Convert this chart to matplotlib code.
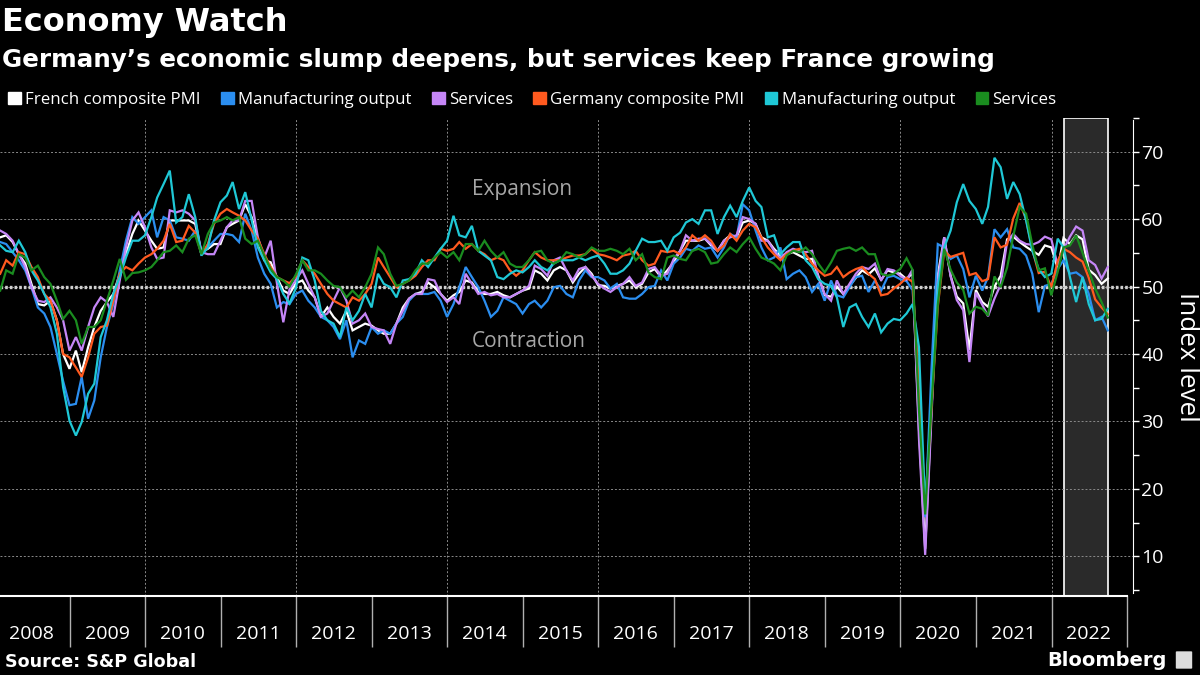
import numpy as np
import pandas as pd
import matplotlib
matplotlib.use('Agg')
import matplotlib.pyplot as plt
import matplotlib.dates as mdates
import matplotlib.patches as mpatches

# monthly PMI readings, Jan 2008 - Sep 2022
fr_composite = [
    57.3, 57.6, 56.6, 54.8, 53.4, 50.4, 47.4, 47.2, 47.9, 45.0, 40.0, 37.8,
    40.5, 37.3, 41.0, 44.0, 46.4, 47.7, 48.9, 51.9, 54.8, 57.8, 59.8, 58.3,
    56.8, 55.6, 55.8, 59.8, 59.8, 59.8, 59.8, 59.3, 55.1, 55.6, 56.3, 56.3,
    58.8, 59.3, 59.8, 62.2, 60.3, 56.8, 53.9, 53.6, 51.4, 49.4, 48.9, 50.5,
    50.9, 49.4, 48.4, 45.5, 46.9, 45.5, 44.5, 46.4, 43.5, 44.0, 44.5, 44.2,
    43.5, 43.0, 43.0, 44.5, 46.9, 48.2, 48.9, 49.2, 50.6, 49.9, 48.9, 47.9,
    48.7, 49.2, 50.9, 50.6, 49.2, 48.9, 48.9, 49.2, 48.7, 48.4, 48.9, 49.4,
    49.7, 52.4, 51.9, 50.9, 52.4, 52.9, 52.4, 50.6, 51.9, 52.9, 51.9, 50.2,
    50.1, 49.7, 50.1, 50.4, 50.9, 49.9, 50.4, 52.1, 52.6, 51.4, 52.4, 53.6,
    55.3, 56.8, 56.8, 56.8, 57.1, 56.1, 55.3, 56.8, 57.6, 57.3, 59.5, 59.8,
    59.3, 57.3, 56.8, 55.6, 54.6, 54.8, 55.1, 54.6, 54.1, 54.1, 51.6, 48.7,
    48.5, 50.0, 48.9, 50.1, 51.3, 52.4, 51.8, 52.7, 51.0, 52.4, 52.1, 51.9,
    51.1, 52.0, 28.9, 11.1, 32.1, 51.7, 57.3, 51.6, 48.5, 47.5, 40.6, 49.5,
    47.7, 47.0, 50.0, 51.6, 57.0, 57.4, 56.6, 55.9, 55.3, 54.7, 56.1, 55.8,
    52.7, 57.2, 56.3, 57.6, 57.0, 52.5, 51.7, 50.4, 51.2,
]
fr_manufacturing = [
    56.6, 56.3, 55.1, 53.9, 52.4, 49.9, 46.9, 46.0, 44.0, 40.0, 36.0, 32.4,
    32.6, 36.6, 30.4, 33.1, 39.5, 44.0, 47.4, 52.4, 56.8, 60.3, 59.3, 60.3,
    61.3, 57.3, 60.3, 59.8, 57.3, 57.1, 56.8, 58.3, 54.8, 55.8, 56.8, 57.8,
    57.8, 57.6, 56.6, 60.8, 58.3, 54.3, 51.9, 50.4, 46.9, 47.7, 47.4, 48.9,
    49.4, 47.9, 46.9, 45.5, 45.0, 44.0, 42.2, 45.0, 39.5, 42.0, 41.5, 44.0,
    43.0, 43.5, 43.0, 44.5, 45.5, 47.9, 48.9, 48.9, 48.9, 49.2, 47.9, 45.5,
    47.4, 49.9, 52.9, 51.4, 49.9, 47.9, 45.5, 46.4, 48.4, 47.9, 47.4, 46.0,
    47.4, 47.9, 46.9, 47.9, 49.9, 50.1, 48.9, 48.4, 50.9, 52.4, 51.4, 51.4,
    50.9, 49.7, 50.4, 48.4, 48.2, 48.2, 48.9, 49.9, 50.1, 52.4, 50.9, 53.4,
    54.3, 55.6, 55.3, 56.1, 55.6, 55.8, 54.3, 55.8, 57.8, 57.3, 62.2, 61.3,
    58.3, 55.8, 53.9, 54.3, 55.8, 51.1, 51.9, 52.4, 51.4, 49.2, 50.4, 47.9,
    50.9, 48.7, 48.4, 49.9, 51.4, 51.6, 49.2, 50.9, 49.4, 51.4, 51.6, 51.1,
    50.8, 49.5, 36.0, 15.8, 38.0, 56.3, 55.8, 54.1, 54.6, 52.6, 48.4, 51.6,
    49.4, 51.4, 58.5, 57.3, 58.5, 55.8, 55.6, 54.6, 51.9, 46.2, 50.1, 50.4,
    52.6, 53.9, 51.9, 52.1, 51.4, 48.9, 45.0, 45.5, 43.5,
]
fr_services = [
    58.3, 57.8, 56.8, 54.8, 52.9, 49.9, 47.9, 47.7, 48.4, 46.9, 45.0, 40.5,
    42.5, 40.5, 44.0, 46.9, 48.4, 47.7, 45.5, 50.9, 55.8, 59.8, 61.0, 58.8,
    55.8, 54.1, 54.3, 61.3, 61.0, 61.3, 60.8, 59.8, 55.1, 54.8, 54.8, 56.8,
    58.8, 59.8, 59.8, 62.7, 62.7, 57.3, 54.3, 56.8, 50.5, 44.7, 49.6, 51.0,
    52.4, 50.4, 48.4, 45.5, 46.0, 47.9, 49.9, 47.9, 44.5, 45.0, 46.0, 44.0,
    43.7, 43.5, 41.5, 44.5, 46.4, 48.2, 48.9, 48.9, 51.1, 50.9, 48.9, 47.7,
    48.4, 47.4, 51.9, 50.4, 48.9, 49.2, 48.7, 48.9, 48.4, 48.4, 48.9, 49.4,
    50.1, 53.1, 52.6, 51.6, 53.9, 54.3, 52.4, 50.9, 52.6, 52.9, 51.6, 50.4,
    49.7, 49.2, 49.9, 50.4, 51.4, 50.1, 50.6, 52.6, 52.9, 51.6, 51.9, 54.1,
    55.3, 57.6, 56.8, 57.1, 57.1, 56.3, 55.3, 56.8, 57.3, 57.6, 60.3, 60.0,
    59.3, 56.8, 56.8, 55.3, 54.1, 55.1, 55.6, 55.3, 55.1, 55.3, 51.4, 48.9,
    47.9, 50.9, 48.9, 50.4, 51.9, 52.9, 52.6, 53.4, 50.9, 52.6, 52.4, 51.6,
    51.0, 52.5, 27.4, 10.2, 31.1, 50.7, 57.3, 51.5, 48.0, 46.5, 38.8, 49.1,
    47.3, 45.6, 48.2, 50.3, 56.6, 57.8, 56.8, 56.3, 56.2, 56.6, 57.4, 57.0,
    53.1, 55.5, 57.4, 58.9, 58.3, 53.9, 53.2, 51.2, 52.9,
]
de_composite = [
    51.9, 53.9, 53.1, 55.1, 54.8, 52.9, 51.4, 48.9, 47.9, 45.0, 40.0, 39.5,
    38.0, 36.6, 39.5, 43.0, 44.0, 44.2, 47.9, 51.9, 52.9, 52.4, 53.4, 54.3,
    54.8, 55.6, 56.8, 59.3, 56.6, 56.8, 59.0, 58.0, 54.8, 56.3, 59.3, 60.8,
    61.5, 61.0, 60.5, 59.8, 58.3, 57.1, 54.8, 52.9, 51.4, 50.9, 50.5, 51.5,
    53.9, 52.9, 51.9, 50.4, 48.9, 47.9, 47.4, 46.9, 48.4, 47.9, 48.9, 50.4,
    54.3, 52.9, 51.4, 49.9, 50.4, 50.9, 51.6, 52.9, 53.9, 53.9, 55.6, 55.3,
    55.6, 56.6, 55.6, 56.3, 55.3, 54.8, 53.9, 54.3, 53.9, 52.4, 51.6, 52.4,
    53.9, 55.1, 54.3, 53.9, 53.9, 53.9, 54.3, 54.6, 54.6, 54.8, 55.6, 54.8,
    54.6, 54.3, 53.9, 54.6, 54.8, 55.3, 53.9, 53.1, 53.4, 55.3, 55.1, 55.3,
    54.8, 55.8, 57.6, 56.8, 57.6, 56.8, 55.3, 56.1, 57.8, 56.8, 58.3, 59.3,
    58.8, 57.3, 55.8, 54.8, 53.9, 54.8, 55.3, 55.6, 54.8, 53.4, 52.4, 51.6,
    51.9, 52.9, 51.4, 52.1, 52.6, 52.9, 51.9, 51.1, 48.7, 48.9, 49.7, 50.4,
    51.3, 50.7, 35.0, 17.4, 32.3, 47.0, 55.3, 54.4, 54.7, 55.0, 51.7, 52.0,
    50.8, 51.1, 57.3, 55.8, 56.2, 60.1, 62.4, 60.0, 55.5, 52.0, 52.2, 49.9,
    53.8, 55.6, 55.1, 54.3, 53.7, 51.3, 48.1, 46.9, 45.9,
]
de_manufacturing = [
    56.1, 55.3, 55.1, 56.8, 55.1, 52.4, 50.9, 48.9, 46.9, 43.0, 35.1, 30.1,
    27.9, 29.9, 34.1, 35.6, 42.5, 45.0, 48.9, 51.4, 54.3, 56.8, 56.8, 57.6,
    60.3, 63.2, 65.2, 67.2, 59.5, 60.3, 63.7, 60.3, 54.6, 55.8, 59.8, 62.5,
    63.5, 65.5, 61.5, 64.0, 59.8, 55.8, 53.9, 52.1, 51.1, 48.9, 47.5, 49.8,
    54.3, 53.9, 50.9, 46.4, 45.0, 44.5, 42.5, 46.9, 45.0, 46.4, 48.9, 46.9,
    51.9, 50.4, 49.9, 48.4, 50.9, 51.1, 51.9, 53.9, 52.9, 54.3, 55.6, 56.8,
    60.5, 57.6, 57.3, 59.0, 55.3, 54.6, 53.9, 51.4, 51.1, 51.9, 52.4, 52.1,
    52.9, 53.9, 52.9, 52.4, 53.4, 53.9, 53.9, 53.9, 54.3, 53.9, 54.3, 54.6,
    53.4, 51.9, 51.9, 52.4, 53.4, 55.3, 57.1, 56.6, 56.6, 56.8, 55.3, 57.3,
    58.0, 59.5, 60.0, 59.3, 61.3, 61.3, 57.8, 60.3, 62.0, 60.3, 62.7, 64.7,
    62.7, 61.8, 57.3, 57.6, 54.8, 55.8, 56.6, 56.6, 53.9, 52.9, 51.1, 50.4,
    50.1, 48.4, 44.0, 46.9, 47.4, 45.5, 44.0, 46.0, 43.2, 44.5, 45.2, 45.0,
    46.0, 47.4, 41.0, 17.0, 34.0, 50.0, 55.8, 58.3, 62.5, 65.2, 62.7, 61.5,
    59.3, 61.8, 69.1, 67.7, 63.0, 65.5, 63.7, 59.8, 55.3, 52.6, 51.4, 51.9,
    57.1, 55.8, 51.4, 47.7, 51.4, 47.4, 45.0, 45.2, 46.7,
]
de_services = [
    49.4, 52.4, 51.9, 54.8, 54.3, 52.4, 53.1, 51.4, 50.4, 47.9, 45.2, 46.4,
    45.0, 41.5, 44.0, 44.0, 45.0, 47.9, 50.9, 54.1, 51.0, 52.0, 52.1, 52.4,
    52.9, 53.9, 55.1, 55.3, 56.1, 55.1, 57.1, 57.6, 54.8, 57.8, 59.5, 59.8,
    60.3, 59.8, 60.3, 57.1, 56.3, 56.8, 54.6, 52.6, 51.4, 50.9, 50.0, 51.8,
    53.9, 52.4, 52.4, 51.9, 50.9, 50.1, 49.9, 48.4, 49.4, 48.4, 49.9, 51.9,
    55.8, 54.8, 51.9, 50.1, 50.4, 50.9, 52.4, 53.4, 53.4, 54.3, 55.1, 54.3,
    55.1, 53.9, 56.3, 56.3, 55.3, 56.8, 55.3, 54.3, 55.1, 53.4, 52.9, 52.9,
    53.9, 55.1, 55.3, 53.9, 53.4, 53.9, 55.1, 54.8, 54.3, 54.8, 55.8, 55.3,
    55.3, 55.6, 55.3, 54.8, 55.6, 53.9, 54.8, 52.1, 51.4, 51.1, 54.3, 54.6,
    54.1, 53.9, 55.3, 55.6, 55.1, 53.4, 53.6, 54.8, 55.8, 55.1, 56.3, 57.3,
    55.6, 54.3, 53.9, 53.4, 52.4, 54.6, 55.3, 55.1, 55.8, 54.8, 53.4, 52.1,
    53.6, 55.3, 55.6, 55.8, 55.3, 55.8, 54.8, 54.8, 51.9, 51.6, 51.9, 52.6,
    54.2, 52.5, 31.7, 16.2, 32.6, 47.3, 55.6, 52.5, 50.6, 49.5, 46.0, 47.0,
    46.7, 45.7, 51.5, 49.9, 52.8, 57.5, 61.8, 60.8, 56.2, 52.4, 52.7, 48.7,
    52.2, 55.8, 56.1, 57.6, 55.0, 52.4, 49.7, 47.7, 45.4,
]

series_names = ['French composite PMI', 'Manufacturing output', 'Services',
                'Germany composite PMI', 'Manufacturing output', 'Services']
series_colors = ['#ffffff', '#2b8ef0', '#c586f7', '#ff5a1f', '#1fc8d6', '#1a8c1f']
all_series = [fr_composite, fr_manufacturing, fr_services,
              de_composite, de_manufacturing, de_services]

years = list(range(2008, 2023))
dates = pd.date_range('2008-01-31', periods=len(fr_composite), freq='ME')
shade_start, shade_end = pd.Timestamp('2022-02-28'), pd.Timestamp('2022-09-30')

plt.rcParams['font.family'] = ['Open Sans', 'DejaVu Sans']
fig = plt.figure(figsize=(12, 6.75), dpi=100, facecolor='black')
ax = fig.add_axes([0.0, 1 - 596 / 675, 1133 / 1200, (596 - 118) / 675])
ax.set_facecolor('black')

for vals, col in zip(all_series, series_colors):
    ax.plot(dates, vals, color=col, lw=1.6, solid_joinstyle='miter')

ax.axvspan(shade_start, shade_end, facecolor='#2a2a2a', edgecolor='white', lw=1.2, zorder=0)

ax.set_xlim(pd.Timestamp('2008-01-30'), pd.Timestamp('2023-01-30'))
ax.set_ylim(4.1, 74.7)

# grid
for yv in range(10, 80, 10):
    ax.axhline(yv, color='#8a8a8a', lw=0.7, ls=(0, (2, 2)), zorder=0.5)
ax.axhline(50, color='#d0d0d0', lw=2.4, ls=(0, (0.8, 0.6)), zorder=0.6)
for yr in range(2010, 2023, 2):
    ax.axvline(pd.Timestamp(f'{yr}-01-01'), color='#8a8a8a', lw=0.7, ls=(0, (2, 2)), zorder=0.5)

# y axis on the right
ax.yaxis.tick_right()
ax.set_yticks(range(10, 80, 10))
ax.set_yticks(range(5, 80, 10), minor=True)
ax.tick_params(axis='y', which='both', colors='white', direction='out', length=4, width=1,
               labelsize=14, pad=2)
for sp in ['top', 'left']:
    ax.spines[sp].set_visible(False)
ax.spines['right'].set_color('white')
ax.spines['right'].set_bounds(4.6, 74.7)
ax.spines['bottom'].set_color('white')
ax.spines['bottom'].set_linewidth(1.5)
ax.spines['bottom'].set_bounds(mdates.date2num(pd.Timestamp('2008-01-30')),
                               mdates.date2num(pd.Timestamp('2023-01-01')))

# x axis: separators as major ticks, year labels as minor ticks
ax.set_xticks([pd.Timestamp(f'{y + 1}-01-01') for y in years])
ax.set_xticks([pd.Timestamp(f'{y}-07-01') for y in years], minor=True)
ax.set_xticklabels([])
ax.set_xticklabels([str(y) for y in years], minor=True)
ax.tick_params(axis='x', which='major', length=37, width=1, color='#b0b0b0', direction='out')
ax.tick_params(axis='x', which='minor', length=0, labelsize=14, labelcolor='white', pad=21)

ax.text(pd.Timestamp('2014-05-01'), 64.4, 'Expansion', color='#a6a6a6', fontsize=15,
        ha='left', va='center')
ax.text(pd.Timestamp('2014-05-01'), 41.9, 'Contraction', color='#a6a6a6', fontsize=15,
        ha='left', va='center')

fig.text(1187 / 1200, 1 - 357 / 675, 'Index level', color='white', fontsize=18.7,
         rotation=270, ha='center', va='center')

fig.text(0.002, 1 - 22 / 675, 'Economy Watch', color='white', fontsize=23,
         fontweight='bold', family='DejaVu Sans', ha='left', va='center')
fig.text(0.002, 1 - 60 / 675,
         'Germany\u2019s economic slump deepens, but services keep France growing',
         color='white', fontsize=17.7, fontweight='bold', family='DejaVu Sans',
         ha='left', va='center')

handles = [mpatches.Patch(color=c) for c in series_colors]
fig.legend(handles, series_names, loc='center left', bbox_to_anchor=(0.007, 1 - 100 / 675),
           ncol=6, frameon=False, fontsize=12.2, labelcolor='white', handlelength=0.75,
           handleheight=0.75, handletextpad=0.25, columnspacing=1.2, borderaxespad=0,
           borderpad=0)

fig.text(0.004, 1 - 662 / 675, 'Source: S&P Global', color='white', fontsize=12.6,
         fontweight='bold', family='DejaVu Sans', ha='left', va='center')
fig.text(1167 / 1200, 1 - 660 / 675, 'Bloomberg', color='white', fontsize=14,
         fontweight='bold', family='DejaVu Sans', ha='right', va='center')
fig.add_artist(mpatches.FancyBboxPatch((1177 / 1200, 1 - 668 / 675), 14 / 1200, 16 / 675,
                                       boxstyle='round,pad=0.001', transform=fig.transFigure,
                                       facecolor='#dddddd', edgecolor='none'))

fig.savefig('out.png', dpi=100, facecolor='black')
